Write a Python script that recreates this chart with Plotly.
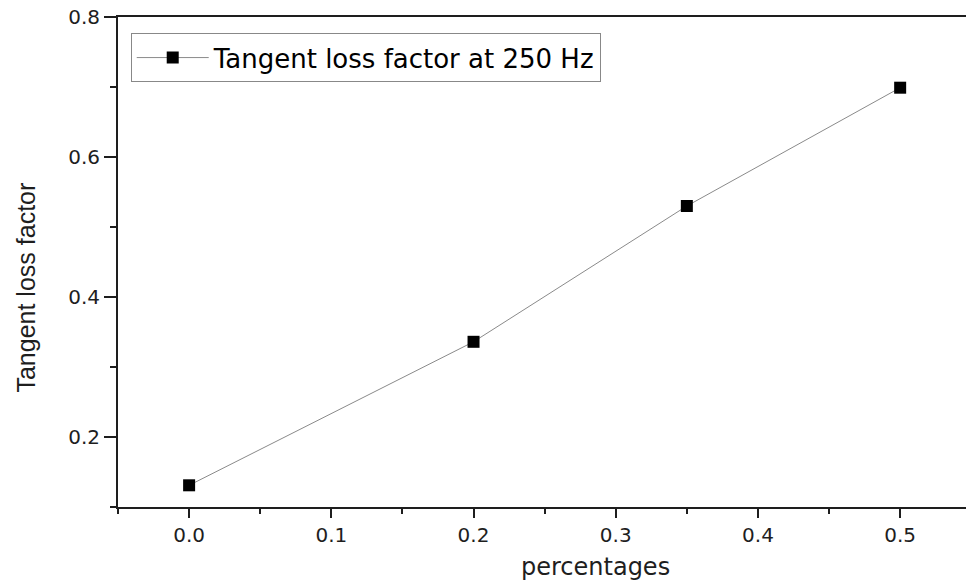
import plotly.graph_objects as go

# Tangent loss factor measured at 250 Hz versus filler percentage
percentages = [0.0, 0.2, 0.35, 0.5]
loss_factor = [0.131, 0.336, 0.530, 0.699]
series_name = "Tangent loss factor at 250 Hz"

x_ticks = [0.0, 0.1, 0.2, 0.3, 0.4, 0.5]
y_ticks = [0.2, 0.4, 0.6, 0.8]
x_title = "percentages"
y_title = "Tangent loss factor"

WIDE = "DejaVu Sans, Verdana, sans-serif"
AXIS_COLOR = "#1e1e1e"

fig = go.Figure()
fig.add_trace(go.Scatter(
    x=percentages, y=loss_factor, name=series_name,
    mode="lines+markers",
    line=dict(color="#8a8a8a", width=1),
    marker=dict(symbol="square", size=12, color="black"),
    showlegend=True,
))

tick_font = dict(family=WIDE, size=20, color=AXIS_COLOR)

fig.update_layout(
    width=966, height=581,
    margin=dict(l=118, r=0, t=17, b=74),
    paper_bgcolor="white", plot_bgcolor="white",
    showlegend=True,
    legend=dict(
        x=0.015, y=0.967, xanchor="left", yanchor="top",
        bordercolor="#888", borderwidth=1, bgcolor="white",
        font=dict(family=WIDE, size=26, color="black"),
        itemwidth=72, tracegroupgap=0,
    ),
    xaxis=dict(
        range=[-0.05, 0.5463], tickvals=x_ticks,
        ticktext=[f"{v:.1f}" for v in x_ticks],
        ticks="outside", ticklen=9, tickwidth=2, tickcolor=AXIS_COLOR,
        minor=dict(tickvals=[-0.05, 0.05, 0.15, 0.25, 0.35, 0.45], ticks="outside",
                   ticklen=5, tickwidth=2, tickcolor=AXIS_COLOR),
        showline=True, linecolor=AXIS_COLOR, linewidth=2, mirror=True,
        showgrid=False, zeroline=False,
        tickfont=tick_font,
    ),
    yaxis=dict(
        range=[0.1, 0.8], tickvals=y_ticks,
        ticktext=[f"{v:.1f}" for v in y_ticks],
        ticks="outside", ticklen=12, tickwidth=2, tickcolor=AXIS_COLOR,
        minor=dict(tickvals=[0.1, 0.3, 0.5, 0.7], ticks="outside",
                   ticklen=6, tickwidth=2, tickcolor=AXIS_COLOR),
        showline=True, linecolor=AXIS_COLOR, linewidth=2, mirror=False,
        showgrid=False, zeroline=False,
        tickfont=tick_font,
    ),
    annotations=[
        dict(text=x_title, xref="paper", yref="paper", x=0.5625, y=-0.122,
             xanchor="center", yanchor="middle", showarrow=False,
             font=dict(family=WIDE, size=24, color=AXIS_COLOR)),
        dict(text=y_title, xref="paper", yref="paper", x=-0.109, y=0.447,
             xanchor="center", yanchor="middle", textangle=-90, showarrow=False,
             font=dict(family="Liberation Sans Narrow, Arial Narrow, Liberation Sans, sans-serif",
                       size=25, color=AXIS_COLOR)),
    ],
)

fig.write_html("out.html")
